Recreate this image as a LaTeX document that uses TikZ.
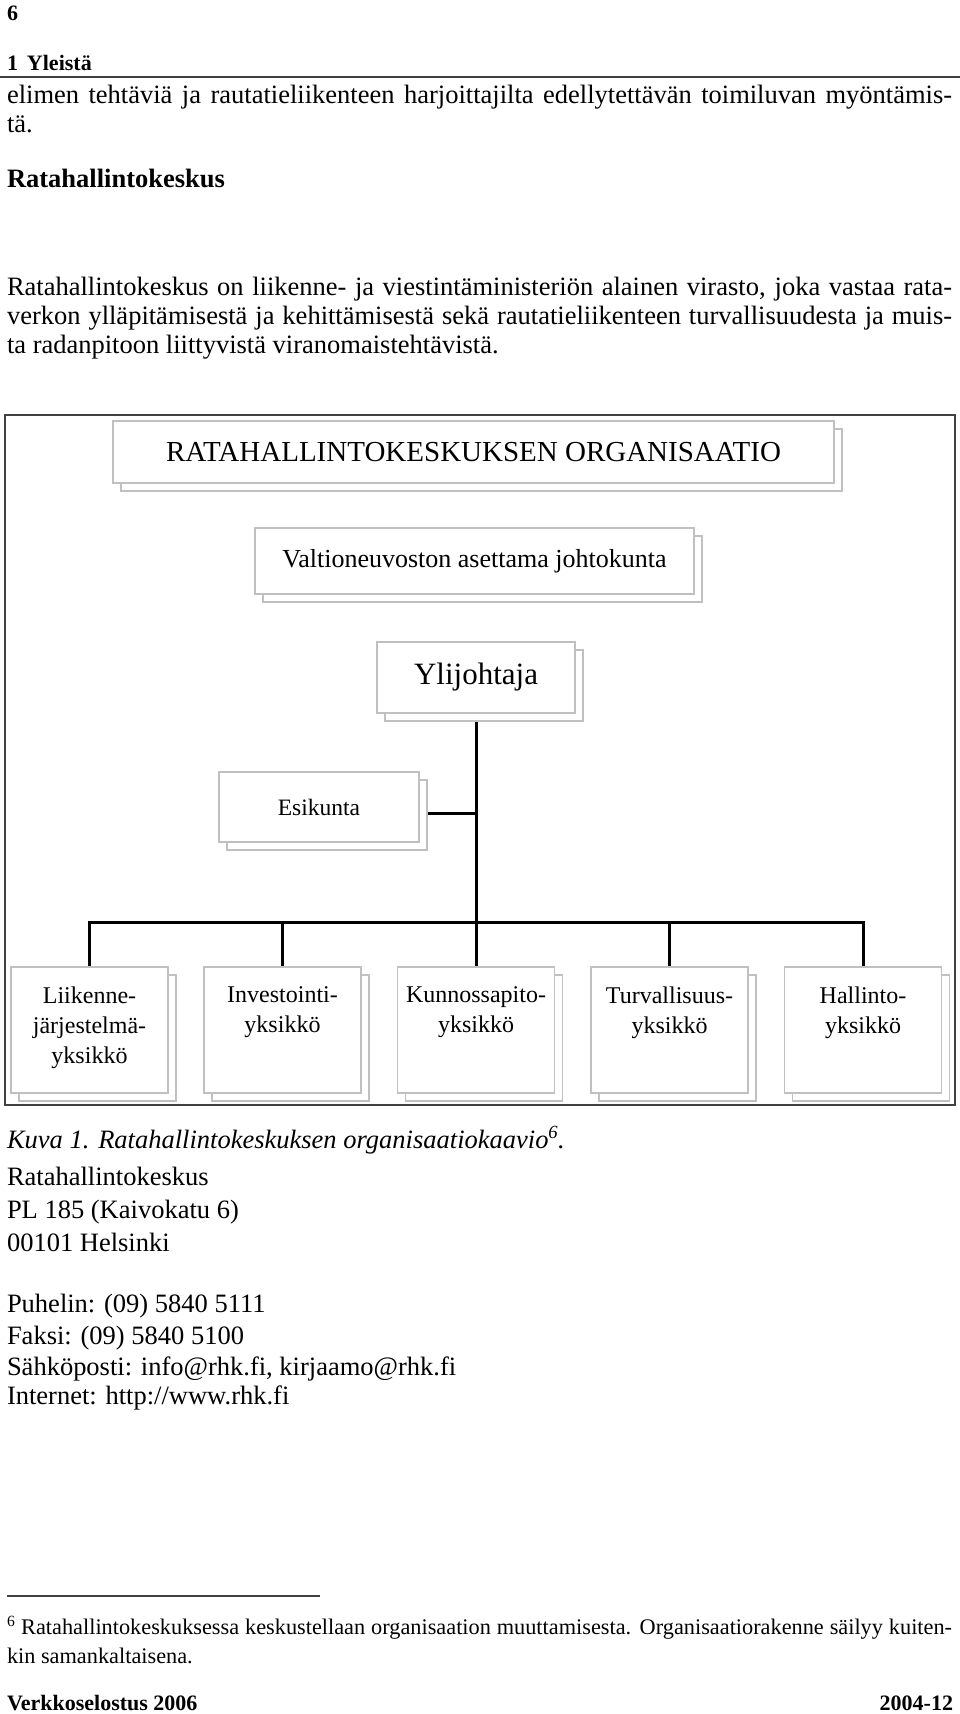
\documentclass[tikz,border=0pt]{standalone}
\usepackage{fontspec}
\setmainfont{Liberation Serif}
\usetikzlibrary{shadows}
\pgfdeclarelayer{background}
\pgfsetlayers{background,main}
\definecolor{boxgray}{RGB}{192,192,192}
\definecolor{framegray}{RGB}{64,64,64}
\newcommand{\justln}[1]{\makebox[945pt][s]{#1}}
\begin{document}
\begin{tikzpicture}[x=1pt,y=-1pt,
  every node/.style={inner sep=0pt,outer sep=0pt},
  txt/.style={anchor=base west,font=\fontsize{26.5}{30.5}\selectfont},
  smallbold/.style={font=\bfseries\fontsize{22}{26}\selectfont},
  orgbox/.style={draw=boxgray,line width=1.2pt,fill=white,
    general shadow={draw=boxgray,line width=1.2pt,fill=white,shadow xshift=8pt,shadow yshift=-8pt}},
  unitlbl/.style={anchor=north,align=center,font=\fontsize{24}{30}\selectfont},
  link/.style={line width=3pt,line join=miter}]
\useasboundingbox (0,0) rectangle (960,1714);

% header
\node[txt,smallbold] (pgno) at (7,20) {6};
\node[txt,smallbold] (chap) at (7,70) {1\hspace{9pt}Yleistä};
\draw[framegray,line width=2pt] (0,77) -- (960,77);

% body text
\node[txt] (p0a) at (7,103) {\justln{elimen tehtäviä ja rautatieliikenteen harjoittajilta edellytettävän toimiluvan myöntämis-}};
\node[txt] (p0b) at (7,132.5) {tä.};
\node[txt,font=\bfseries\fontsize{26.5}{30.5}\selectfont] (head) at (7,187) {Ratahallintokeskus};
\node[txt] (p1a) at (7,295) {\justln{Ratahallintokeskus on liikenne- ja viestintäministeriön alainen virasto, joka vastaa rata-}};
\node[txt] (p1b) at (7,324) {\justln{verkon ylläpitämisestä ja kehittämisestä sekä rautatieliikenteen turvallisuudesta ja muis-}};
\node[txt] (p1c) at (7,353) {ta radanpitoon liittyvistä viranomaistehtävistä.};

% diagram frame
\node[draw=framegray,line width=2pt,minimum width=950pt,minimum height=690pt] (frame) at (480,760) {};

% org boxes
\node[orgbox,minimum width=721pt,minimum height=62pt,font=\fontsize{29}{34}\selectfont] (title) at (473.5,452) {RATAHALLINTOKESKUKSEN ORGANISAATIO};
\node[orgbox,minimum width=439pt,minimum height=66pt,font=\fontsize{26}{30}\selectfont] (board) at (474.5,561) {Valtioneuvoston asettama johtokunta};
\node[orgbox,minimum width=198pt,minimum height=71pt,font=\fontsize{31}{36}\selectfont] (ceo) at (476,677.5) {Ylijohtaja};
\node[orgbox,minimum width=200pt,minimum height=70pt,font=\fontsize{23.5}{28}\selectfont] (staff) at (319,807) {Esikunta};

\node[orgbox,minimum width=157pt,minimum height=126pt] (u1) at (89.5,1030) {};
\node[orgbox,minimum width=157pt,minimum height=126pt] (u2) at (282.5,1030) {};
\node[orgbox,minimum width=157pt,minimum height=126pt] (u3) at (476,1030) {};
\node[orgbox,minimum width=157pt,minimum height=126pt] (u4) at (669.5,1030) {};
\node[orgbox,minimum width=157pt,minimum height=126pt] (u5) at (863,1030) {};
\node[unitlbl] (u1t) at ([yshift=-19.5pt]u1.north) {Liikenne-\\järjestelmä-\\yksikkö};
\node[unitlbl] (u2t) at ([yshift=-19.5pt]u2.north) {Investointi-\\yksikkö};
\node[unitlbl] (u3t) at ([yshift=-19.5pt]u3.north) {Kunnossapito-\\yksikkö};
\node[unitlbl] (u4t) at ([yshift=-19.5pt]u4.north) {Turvallisuus-\\yksikkö};
\node[unitlbl] (u5t) at ([yshift=-19.5pt]u5.north) {Hallinto-\\yksikkö};

% connectors (behind the boxes and their shadows)
\begin{pgfonlayer}{background}
\fill[white] (0,0) rectangle (960,1714);
\coordinate (bus) at (476,922);
\coordinate (sj) at (476,813);
\draw[link] (ceo.south) -- (bus);
\draw[link] (u1.north) -- (u1.north |- bus) -- (u5.north |- bus) -- (u5.north);
\draw[link] (u2.north) -- (u2.north |- bus);
\draw[link] (u3.north) -- (u3.north |- bus);
\draw[link] (u4.north) -- (u4.north |- bus);
\draw[link] (staff.east |- sj) -- (sj);
\end{pgfonlayer}

% caption and contact
\node[txt,font=\itshape\fontsize{26.5}{30.5}\selectfont] (cap) at (7,1148) {Kuva 1. Ratahallintokeskuksen organisaatiokaavio\textsuperscript{6}.};
\node[txt] (a1) at (7,1185) {Ratahallintokeskus};
\node[txt] (a2) at (7,1218) {PL 185 (Kaivokatu 6)};
\node[txt] (a3) at (7,1251) {00101 Helsinki};
\node[txt] (a4) at (7,1312) {Puhelin: (09) 5840 5111};
\node[txt] (a5) at (7,1344) {Faksi: (09) 5840 5100};
\node[txt] (a6) at (7,1375) {Sähköposti: info@rhk.fi, kirjaamo@rhk.fi};
\node[txt] (a7) at (7,1404) {Internet: http://www.rhk.fi};

% footnote
\draw[framegray,line width=1.5pt] (7,1596) -- (320,1596);
\node[txt,font=\fontsize{22.3}{27}\selectfont] (fn1) at (7,1634) {\justln{\textsuperscript{6} Ratahallintokeskuksessa keskustellaan organisaation muuttamisesta. Organisaatiorakenne säilyy kuiten-}};
\node[txt,font=\fontsize{22.3}{27}\selectfont] (fn2) at (7,1663) {kin samankaltaisena.};

% footer
\node[txt,smallbold] (foot1) at (7,1710) {Verkkoselostus 2006};
\node[smallbold,anchor=base east] (foot2) at (953,1710) {2004-12};
\end{tikzpicture}
\end{document}
